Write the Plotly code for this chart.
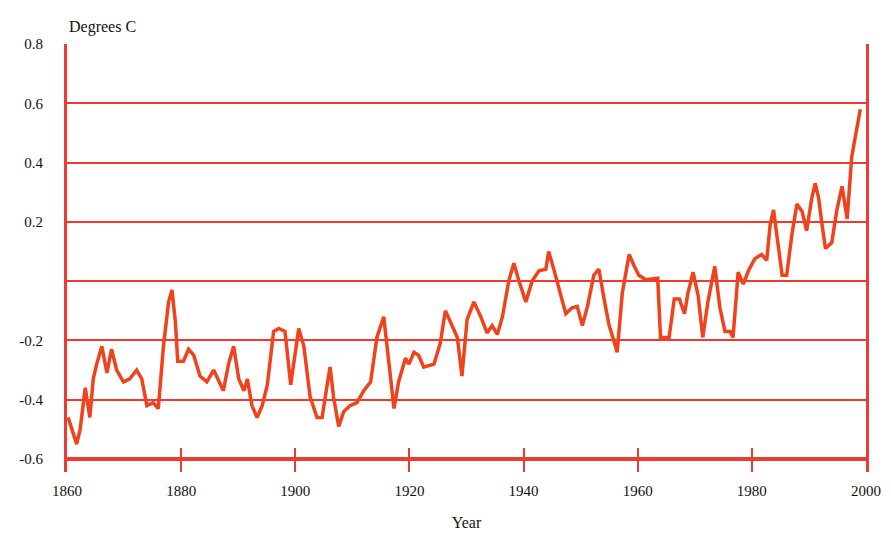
import plotly.graph_objects as go

# Global temperature anomaly (degrees C)
years = [1860.2, 1861.7, 1862.3, 1863.2, 1864.0, 1864.6, 1865.2, 1866.1, 1867.0, 1867.8,
         1868.7, 1869.9, 1871.0, 1872.2, 1873.1, 1874.0, 1875.1, 1876.0, 1876.9, 1877.8,
         1878.4, 1879.0, 1879.4, 1880.4, 1881.3, 1882.2, 1883.3, 1884.5, 1885.7, 1886.5,
         1887.4, 1888.3, 1889.2, 1890.1, 1891.0, 1891.6, 1892.4, 1893.3, 1894.2, 1895.1,
         1896.2, 1897.1, 1898.2, 1899.2, 1900.6, 1901.5, 1902.6, 1903.8, 1904.7, 1905.5,
         1906.1, 1906.7, 1907.6, 1908.5, 1909.6, 1910.8, 1912.0, 1913.2, 1914.3, 1915.5,
         1916.4, 1917.3, 1918.1, 1919.3, 1919.9, 1920.8, 1921.6, 1922.5, 1924.3, 1925.4,
         1926.3, 1927.2, 1928.4, 1929.2, 1930.1, 1931.3, 1932.5, 1933.6, 1934.5, 1935.4,
         1936.3, 1937.4, 1938.3, 1939.2, 1940.4, 1941.5, 1942.7, 1943.9, 1944.4, 1945.3,
         1946.5, 1947.4, 1948.5, 1949.4, 1950.3, 1951.2, 1952.3, 1953.2, 1954.1, 1955.0,
         1955.8, 1956.4, 1957.3, 1958.5, 1959.4, 1960.2, 1961.4, 1963.5, 1964.0, 1965.5,
         1966.4, 1967.3, 1968.2, 1968.8, 1969.7, 1970.6, 1971.4, 1972.3, 1973.5, 1974.4,
         1975.3, 1976.2, 1976.7, 1977.6, 1978.5, 1979.4, 1980.5, 1981.7, 1982.6, 1983.2,
         1983.8, 1984.4, 1985.3, 1986.1, 1987.0, 1987.9, 1988.8, 1989.6, 1990.5, 1991.1,
         1991.7, 1992.3, 1992.9, 1994.0, 1994.9, 1995.8, 1996.7, 1997.5, 1998.1, 1999.0]

anomaly = [-0.46, -0.55, -0.50, -0.36, -0.46, -0.33, -0.28, -0.22, -0.31, -0.23,
           -0.30, -0.34, -0.33, -0.30, -0.33, -0.42, -0.41, -0.43, -0.22, -0.07,
           -0.03, -0.14, -0.27, -0.27, -0.23, -0.25, -0.32, -0.34, -0.30, -0.33,
           -0.37, -0.28, -0.22, -0.33, -0.37, -0.33, -0.42, -0.46, -0.42, -0.35,
           -0.17, -0.16, -0.17, -0.35, -0.16, -0.22, -0.39, -0.46, -0.46, -0.36,
           -0.29, -0.39, -0.49, -0.44, -0.42, -0.41, -0.37, -0.34, -0.19, -0.12,
           -0.27, -0.43, -0.34, -0.26, -0.28, -0.24, -0.25, -0.29, -0.28, -0.21,
           -0.10, -0.14, -0.19, -0.32, -0.13, -0.07, -0.12, -0.175, -0.15, -0.18,
           -0.12, 0.00, 0.06, 0.00, -0.07, 0.00, 0.035, 0.04, 0.10, 0.04,
           -0.04, -0.11, -0.09, -0.085, -0.15, -0.085, 0.02, 0.04, -0.06, -0.15,
           -0.20, -0.24, -0.04, 0.09, 0.05, 0.02, 0.005, 0.01, -0.19, -0.19,
           -0.06, -0.06, -0.11, -0.04, 0.03, -0.05, -0.19, -0.07, 0.05, -0.09,
           -0.17, -0.17, -0.19, 0.03, -0.01, 0.035, 0.075, 0.09, 0.07, 0.19,
           0.24, 0.15, 0.02, 0.02, 0.155, 0.26, 0.235, 0.17, 0.28, 0.33,
           0.28, 0.19, 0.11, 0.13, 0.24, 0.32, 0.21, 0.42, 0.48, 0.58]

x_ticks = [1860, 1880, 1900, 1920, 1940, 1960, 1980, 2000]
x_tick_labels = ["1860", "1880", "1900", "1920", "1940", "1960", "1980", "2000"]
y_ticks = [0.8, 0.6, 0.4, 0.2, 0.0, -0.2, -0.4, -0.6]
y_tick_labels = ["0.8", "0.6", "0.4", "0.2", "", "-0.2", "-0.4", "-0.6"]

RED = "#ee3a30"
LINE = "#f0421c"

fig = go.Figure()
fig.add_trace(go.Scatter(x=years, y=anomaly, mode="lines",
                         line=dict(color=LINE, width=3.5), hoverinfo="skip",
                         showlegend=False))

fig.update_layout(
    width=891, height=546,
    margin=dict(l=59, r=33, t=36, b=82, autoexpand=False),
    paper_bgcolor="white", plot_bgcolor="white",
    font=dict(family="Liberation Serif, Times New Roman, serif", size=15, color="#111"),
    xaxis=dict(range=[1860, 2000], tickvals=x_ticks, ticktext=x_tick_labels,
               showgrid=False, zeroline=False, showline=False,
               ticks="inside", ticklen=24, tickwidth=2, tickcolor=RED,
               ticklabelstandoff=8,
               title=dict(text="Year", font=dict(size=16), standoff=18)),
    yaxis=dict(range=[-0.644, 0.8], tickvals=y_ticks, ticktext=y_tick_labels,
               showgrid=True, gridcolor=RED, gridwidth=2, zeroline=False,
               showline=True, linecolor=RED, linewidth=3, mirror=True,
               ticks="", ticklabelstandoff=18),
    annotations=[dict(text="Degrees C", xref="paper", yref="paper", x=0.0, y=1.0,
                      xanchor="left", yanchor="bottom", yshift=6, showarrow=False,
                      font=dict(size=16))],
    shapes=[dict(type="line", xref="paper", yref="y", x0=0, x1=1, y0=-0.6, y1=-0.6,
                 line=dict(color=RED, width=4), layer="below")],
)

fig.write_html("out.html")
